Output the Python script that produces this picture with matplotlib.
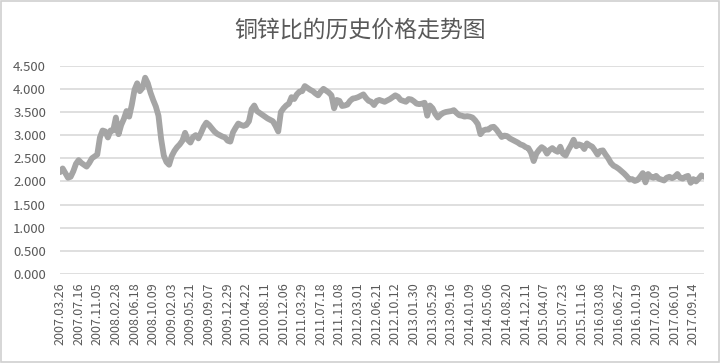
import matplotlib
matplotlib.use("Agg")
import matplotlib.pyplot as plt
import matplotlib.patches as mpatches

plt.rcParams["font.family"] = ["Noto Sans CJK SC", "DejaVu Sans"]

# tick labels, one every 7 data points
date_labels = [
    "2007.03.26", "2007.07.16", "2007.11.05", "2008.02.28", "2008.06.18",
    "2008.10.09", "2009.02.03", "2009.05.21", "2009.09.07", "2009.12.29",
    "2010.04.22", "2010.08.11", "2010.12.06", "2011.03.29", "2011.07.18",
    "2011.11.08", "2012.03.01", "2012.06.21", "2012.10.12", "2013.01.30",
    "2013.05.29", "2013.09.16", "2014.01.09", "2014.05.06", "2014.08.20",
    "2014.12.11", "2015.04.07", "2015.07.23", "2015.11.16", "2016.03.08",
    "2016.06.27", "2016.10.19", "2017.02.09", "2017.06.01", "2017.09.14",
]

# copper/zinc ratio
ratio = [
    2.20, 2.28, 2.18, 2.08, 2.10, 2.22, 2.38,
    2.46, 2.40, 2.36, 2.32, 2.40, 2.50, 2.54,
    2.58, 2.95, 3.10, 3.08, 2.95, 3.10, 3.10,
    3.38, 3.02, 3.22, 3.35, 3.52, 3.40, 3.66,
    3.98, 4.12, 3.95, 4.02, 4.24, 4.12, 3.92,
    3.76, 3.62, 3.42, 2.92, 2.56, 2.42, 2.36,
    2.55, 2.66, 2.74, 2.80, 2.88, 3.05, 2.90,
    2.84, 2.96, 3.00, 2.93, 3.05, 3.18, 3.27,
    3.22, 3.15, 3.08, 3.03, 3.00, 2.97, 2.95,
    2.88, 2.86, 3.06, 3.16, 3.25, 3.22, 3.20,
    3.22, 3.30, 3.56, 3.64, 3.52, 3.48, 3.44,
    3.40, 3.36, 3.33, 3.30, 3.20, 3.08, 3.50,
    3.58, 3.64, 3.68, 3.82, 3.78, 3.88, 3.94,
    3.95, 4.06, 4.02, 3.98, 3.95, 3.90, 3.86,
    3.94, 4.00, 3.96, 3.92, 3.86, 3.58, 3.76,
    3.74, 3.63, 3.64, 3.66, 3.74, 3.79, 3.80,
    3.82, 3.85, 3.88, 3.80, 3.74, 3.72, 3.65,
    3.74, 3.76, 3.74, 3.72, 3.75, 3.78, 3.82,
    3.86, 3.83, 3.76, 3.74, 3.72, 3.78, 3.77,
    3.73, 3.68, 3.67, 3.68, 3.70, 3.42, 3.64,
    3.58, 3.46, 3.38, 3.44, 3.48, 3.50, 3.51,
    3.52, 3.54, 3.48, 3.43, 3.42, 3.40, 3.41,
    3.40, 3.38, 3.32, 3.24, 3.02, 3.10, 3.12,
    3.12, 3.17, 3.18, 3.12, 3.04, 2.96, 2.99,
    2.98, 2.93, 2.90, 2.87, 2.84, 2.80, 2.78,
    2.74, 2.72, 2.62, 2.44, 2.60, 2.68, 2.74,
    2.70, 2.60, 2.68, 2.72, 2.67, 2.64, 2.75,
    2.60, 2.56, 2.68, 2.78, 2.90, 2.76, 2.80,
    2.78, 2.70, 2.82, 2.78, 2.75, 2.67, 2.58,
    2.66, 2.67, 2.58, 2.50, 2.40, 2.34, 2.31,
    2.27, 2.22, 2.17, 2.11, 2.04, 2.05, 2.01,
    2.03, 2.10, 2.18, 1.98, 2.16, 2.10, 2.08,
    2.12, 2.06, 2.04, 2.02, 2.08, 2.10, 2.07,
    2.10, 2.16, 2.08, 2.06, 2.10, 2.12, 1.97,
    2.05, 2.00, 2.06, 2.13, 2.10,
]
yticks = [0.0, 0.5, 1.0, 1.5, 2.0, 2.5, 3.0, 3.5, 4.0, 4.5]
label_step = 7

TEXT = "#595959"
GRID = "#d9d9d9"
LINE = "#a5a5a5"

fig = plt.figure(figsize=(7.2, 3.64), dpi=100)
fig.patches.append(mpatches.Rectangle((0.002, 0.006), 0.996, 0.99, transform=fig.transFigure,
                                      fill=False, edgecolor="#d0d0d0", linewidth=1.2))
ax = fig.add_axes([60 / 720, 90 / 364, 644 / 720, 208.3 / 364])

ax.plot(range(len(ratio)), ratio, color=LINE, linewidth=4.2,
        solid_joinstyle="round", solid_capstyle="round")

ax.set_xlim(0, len(ratio) - 1)
ax.set_ylim(0, 4.5)
ax.set_yticks(yticks)
ax.set_yticklabels([f"{v:.3f}" for v in yticks], color=TEXT, fontsize=9.5)
ax.yaxis.grid(True, color=GRID, linewidth=1.2)
ax.set_axisbelow(True)

ax.set_xticks(range(0, label_step * len(date_labels), label_step))
ax.set_xticklabels(date_labels, rotation=90, color=TEXT, fontsize=9)
ax.tick_params(length=0, pad=6)
ax.tick_params(axis="y", pad=10)
for s in ax.spines.values():
    s.set_visible(False)

fig.text(0.5, 0.918, "铜锌比的历史价格走势图", ha="center", va="center",
         fontsize=16.5, color=TEXT)

fig.savefig("out.png", dpi=100)
